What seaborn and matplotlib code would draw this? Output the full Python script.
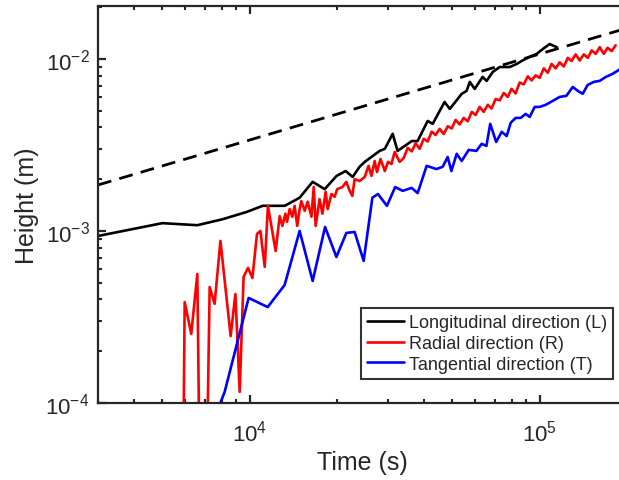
import numpy as np
import pandas as pd
import matplotlib
matplotlib.use("Agg")
import matplotlib.pyplot as plt
from matplotlib.ticker import LogLocator, NullFormatter
import seaborn as sns

# ---------------- data ----------------
long_time = [3000, 5000, 6600, 8070, 9770, 11090, 13210, 14870, 16490, 18140,
             19950, 21430, 22650, 23930, 24930, 28070, 29240, 31120, 32360, 36220,
             37930, 41100, 42760, 46990, 48980, 53830, 55980, 57410, 59700, 63560,
             65610, 68870, 72780, 78840, 83370, 86700, 92470, 97700, 102400, 108200,
             114500]
long_height = [9.35e-4, 1.11e-3, 1.08e-3, 1.17e-3, 1.29e-3, 1.40e-3, 1.40e-3, 1.56e-3,
               1.93e-3, 1.75e-3, 2.09e-3, 2.23e-3, 2.06e-3, 2.36e-3, 2.52e-3, 2.92e-3,
               3.00e-3, 3.67e-3, 2.92e-3, 3.33e-3, 3.33e-3, 4.36e-3, 4.19e-3, 5.62e-3,
               5.12e-3, 6.26e-3, 6.52e-3, 7.35e-3, 6.69e-3, 7.86e-3, 7.45e-3, 8.39e-3,
               8.97e-3, 8.97e-3, 9.35e-3, 9.73e-3, 1.03e-2, 1.07e-2, 1.14e-2, 1.22e-2,
               1.17e-2]

rad_time = [5920, 5970, 6290, 6600, 6690, 7160, 7280, 7570, 7930, 8600,
            8930, 9240, 9530, 9870, 10220, 10600, 10890, 11270, 11560, 12290,
            12690, 12970, 13280, 13450, 13740, 14030, 14290, 14590, 14870, 15070,
            15480, 15850, 16330, 16630, 16890, 17420, 17820, 18280, 18580, 19140,
            19630, 20040, 20890, 21530, 22130, 22590, 23010, 23930, 24930, 25700,
            26300, 26980, 27480, 28250, 29240, 29990, 30830, 31620, 32890,
            33960, 35060, 36220, 37350, 38550, 39810, 41100, 42430, 43750, 45190,
            46670, 48190, 49750, 51290, 52970, 54700, 56490, 58320, 60140, 62090,
            64120, 66220, 68230, 70470, 72780, 75160, 77620, 79980, 82600, 85310,
            88100, 90990, 93760, 96830, 100000, 103300, 106600, 109900, 113500, 117200,
            121100, 125000, 128800, 133000, 137400, 141900, 146600, 151100, 156000, 161100,
            166300, 171400, 177000, 182800]
rad_height = [8.0e-5, 3.86e-4, 2.52e-4, 5.62e-4, 8.0e-5, 8.0e-5, 4.72e-4, 3.77e-4, 8.75e-4, 2.45e-4,
              4.30e-4, 1.16e-4, 5.41e-4, 6.10e-4, 5.33e-4, 9.61e-4, 1.00e-3, 6.18e-4, 1.40e-3, 7.65e-4,
              1.22e-3, 1.07e-3, 1.26e-3, 1.13e-3, 1.34e-3, 1.21e-3, 1.40e-3, 1.07e-3, 1.34e-3, 1.49e-3,
              1.31e-3, 1.48e-3, 1.21e-3, 1.80e-3, 1.07e-3, 1.53e-3, 1.26e-3, 1.69e-3, 1.34e-3, 1.64e-3,
              1.58e-3, 1.75e-3, 1.80e-3, 1.93e-3, 1.71e-3, 1.60e-3, 2.00e-3, 1.95e-3, 2.06e-3, 2.39e-3,
              2.09e-3, 2.55e-3, 2.20e-3, 2.62e-3, 2.23e-3, 2.52e-3, 2.45e-3, 2.88e-3, 2.52e-3,
              2.65e-3, 3.04e-3, 2.90e-3, 3.23e-3, 3.00e-3, 3.43e-3, 3.31e-3, 3.78e-3, 3.61e-3, 3.92e-3,
              3.66e-3, 4.06e-3, 3.94e-3, 4.42e-3, 4.16e-3, 4.54e-3, 4.34e-3, 4.92e-3, 4.72e-3, 5.26e-3,
              4.92e-3, 5.41e-3, 5.15e-3, 5.85e-3, 5.74e-3, 6.34e-3, 6.01e-3, 6.70e-3, 6.30e-3, 7.29e-3,
              7.11e-3, 7.91e-3, 7.50e-3, 8.02e-3, 7.76e-3, 8.81e-3, 8.30e-3, 9.35e-3, 8.81e-3, 9.55e-3,
              9.04e-3, 1.014e-2, 9.72e-3, 1.062e-2, 9.79e-3, 1.062e-2, 1.014e-2, 1.12e-2, 1.07e-2, 1.17e-2,
              1.07e-2, 1.16e-2, 1.11e-2, 1.20e-2]

tan_time = [7630, 8200, 9920, 11540, 13200, 14870, 16490, 18200, 19910, 21550,
            23010, 24720, 26490, 27690, 29740, 31750, 33700, 36180, 37950, 40760,
            44050, 46300, 48170, 49610, 51740, 53830, 56920, 60490, 63100, 65510,
            67520, 70790, 73960, 76950, 79430, 82640, 86000, 89480, 92370, 96110,
            100000, 104900, 110900, 117200, 123600, 130000, 135200, 140700, 146400, 153600,
            161000, 168900, 178500, 190000]
tan_height = [8.5e-5, 1.16e-4, 4.08e-4, 3.61e-4, 4.85e-4, 1.00e-3, 5.12e-4, 1.055e-3, 7.06e-4, 9.74e-4,
              9.87e-4, 6.70e-4, 1.56e-3, 1.64e-3, 1.40e-3, 1.80e-3, 1.71e-3, 1.78e-3, 1.66e-3, 2.39e-3,
              2.29e-3, 2.36e-3, 2.69e-3, 2.23e-3, 2.81e-3, 2.55e-3, 2.96e-3, 2.92e-3, 3.21e-3, 3.12e-3,
              4.19e-3, 3.29e-3, 3.77e-3, 3.56e-3, 4.25e-3, 4.54e-3, 4.54e-3, 4.79e-3, 4.60e-3, 5.26e-3,
              5.26e-3, 5.41e-3, 5.70e-3, 6.01e-3, 6.10e-3, 6.87e-3, 6.52e-3, 6.27e-3, 7.06e-3, 7.35e-3,
              7.45e-3, 7.85e-3, 8.19e-3, 8.75e-3]

ref_time = [3000, 200000]
ref_height = [1.85e-3, 1.51e-2]

series_names = ["Longitudinal direction (L)", "Radial direction (R)", "Tangential direction (T)"]
series_colors = ["#000000", "#FF0000", "#0000FF"]

# ---------------- style ----------------
sns.set_style("ticks")
plt.rcParams["font.family"] = ["Liberation Sans", "DejaVu Sans"]
plt.rcParams["mathtext.fontset"] = "custom"
plt.rcParams["mathtext.rm"] = "Liberation Sans"
plt.rcParams["mathtext.it"] = "Liberation Sans:italic"
plt.rcParams["mathtext.bf"] = "Liberation Sans:bold"

axis_color = "#262626"

fig = plt.figure(figsize=(6.19, 4.81), dpi=100)
ax = fig.add_axes([98 / 619, 77 / 481, 529 / 619, 397 / 481])
ax.set_xscale("log")
ax.set_yscale("log")

df = pd.concat([
    pd.DataFrame({"time": long_time, "height": long_height, "series": series_names[0]}),
    pd.DataFrame({"time": rad_time, "height": rad_height, "series": series_names[1]}),
    pd.DataFrame({"time": tan_time, "height": tan_height, "series": series_names[2]}),
], ignore_index=True)

ref_df = pd.DataFrame({"time": ref_time, "height": ref_height})
sns.lineplot(data=ref_df, x="time", y="height", ax=ax, color="black",
             linewidth=2.0, linestyle=(0, (5, 3)), legend=False)

sns.lineplot(data=df, x="time", y="height", hue="series", hue_order=series_names,
             palette=dict(zip(series_names, series_colors)), estimator=None, sort=False,
             linewidth=1.9, ax=ax)

ax.set_xlim(3000, 200000)
ax.set_ylim(1e-4, 2.03e-2)

for axis in (ax.xaxis, ax.yaxis):
    axis.set_major_locator(LogLocator(base=10, numticks=20))
    axis.set_minor_locator(LogLocator(base=10, subs=np.arange(2, 10), numticks=100))
    axis.set_minor_formatter(NullFormatter())

ax.set_xlabel("Time (s)", fontsize=18, color=axis_color, labelpad=3)
ax.set_ylabel("Height (m)", fontsize=18, color=axis_color, labelpad=5)

ax.tick_params(which="both", direction="in", top=True, right=False,
               colors=axis_color, labelsize=16)
ax.tick_params(axis="x", which="major", pad=12)
ax.tick_params(axis="y", which="major", pad=6)
ax.tick_params(which="major", length=5.5, width=1.6)
ax.tick_params(which="minor", length=3.2, width=1.5)
for sp in ax.spines.values():
    sp.set_linewidth(1.6)
    sp.set_color(axis_color)

leg = ax.legend(loc="lower right", bbox_to_anchor=(0.9735, 0.0605), fontsize=13,
                frameon=True, fancybox=False, handlelength=2.05, handletextpad=0.25,
                borderpad=0.35, labelspacing=0.2, borderaxespad=0)
leg.get_frame().set_edgecolor("black")
leg.get_frame().set_linewidth(1.5)

fig.savefig("out.png", dpi=100)
